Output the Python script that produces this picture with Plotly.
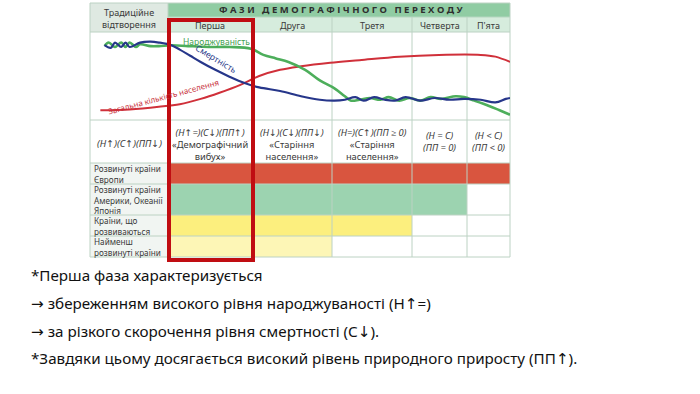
import plotly.graph_objects as go

W, H = 700, 394

# ---------------- data ----------------
title = "ФАЗИ ДЕМОГРАФІЧНОГО ПЕРЕХОДУ"
traditional_label = ["Традиційне", "відтворення"]
traditional_formula = ["<i>(Н↑)(С↑)(ПП↓)</i>"]
phases = ["Перша", "Друга", "Третя", "Четверта", "П'ята"]
phase_formulas = [
    ["<i>(Н↑=)(С↓)(ПП↑)</i>", "«Демографічний", "вибух»"],
    ["<i>(Н↓)(С↓)(ПП↓)</i>", "«Старіння", "населення»"],
    ["<i>(Н=)(С↑)(ПП ≥ 0)</i>", "«Старіння", "населення»"],
    ["<i>(Н = С)</i>", "<i>(ПП = 0)</i>"],
    ["<i>(Н &lt; С)</i>", "<i>(ПП &lt; 0)</i>"],
]
country_groups = [
    ["Розвинуті країни", "Європи"],
    ["Розвинуті країни", "Америки, Океанії", "Японія"],
    ["Країни, що", "розвиваються"],
    ["Найменш", "розвинуті країни"],
]
phases_reached = [5, 4, 3, 2]

# curves: time (0..100) and level (0..100)
birth_t = [3, 4, 5.5, 7, 8, 9, 10.5, 11.5, 14, 16, 19, 23, 28, 33, 38, 41, 44, 47, 51, 54.5, 58, 60.5, 62,
           64, 66.5, 69, 71, 73.5, 76, 78.5, 81, 83.5, 87, 89, 91.5, 95, 97.5, 100]
birth_v = [84, 88, 83, 88, 83, 88, 83, 86, 84, 84, 85, 84, 83, 83, 81, 74, 70, 66, 57, 45, 36, 27, 22,
           23, 25, 23, 26, 22, 25, 22, 26, 24, 27, 26, 22, 16, 11, 6]
death_t = [3, 4.5, 5.5, 7, 8, 9, 11.5, 14, 16, 19, 21, 23.5, 26, 29.5, 33, 36.5, 40, 45, 50, 54.5, 58,
           60.5, 63, 65, 67.5, 70, 72.5, 75, 78.5, 82, 85.5, 89, 93, 96.5, 99, 100]
death_v = [85, 82, 88, 83, 88, 83, 88, 89, 88, 85, 80, 73, 66, 57, 49, 42, 37, 33, 27, 23, 22,
           23, 26, 22, 26, 23, 22, 26, 22, 25, 23, 24, 23, 20, 24, 25]
pop_t = [2, 9, 16, 21, 26, 30.5, 35.5, 40, 45, 50, 57, 64, 73.5, 83, 93, 96.5, 100]
pop_v = [11, 12, 15, 18, 24, 31, 40, 50, 57, 61, 65, 68, 72, 74, 74, 72, 66]
curve_names = ["Народжуваність", "Смертність", "Загальна кількість населення"]

bottom = [
    "*Перша фаза характеризується",
    "→ збереженням високого рівня народжуваності (Н↑=)",
    "→ за різкого скорочення рівня смертності (С↓).",
    "*Завдяки цьому досягається високий рівень природного приросту (ПП↑).",
]

# ---------------- layout constants (pixels) ----------------
col_px = [90, 168, 252, 332, 412, 467, 510]
row_px = [3, 17, 32, 120, 163, 184, 215, 236, 257]
row_colors = ["#d9553f", "#9cd3b0", "#fcef7e", "#fdf6b6"]
grid_col = "#bcd2c3"
FONT = "Noto Sans"
TXT = "#3a3a3a"


def arrows(s):
    for a in ("↑", "↓", "→"):
        s = s.replace(a, "<span style='font-family:DejaVu Sans'>" + a + "</span>")
    return s


def px(x):
    return x / W


def py(y):
    return 1 - y / H


shapes = []
ann = []


def rect(x0, y0, x1, y1, fill):
    shapes.append(dict(type="rect", xref="paper", yref="paper",
                       x0=px(x0), x1=px(x1), y0=py(y1), y1=py(y0),
                       fillcolor=fill, line=dict(width=0), layer="below"))


def hline(x0, x1, y, color=grid_col, w=1):
    shapes.append(dict(type="line", xref="paper", yref="paper", x0=px(x0), x1=px(x1),
                       y0=py(y), y1=py(y), line=dict(color=color, width=w), layer="below"))


def vline(x, y0, y1, color=grid_col, w=1):
    shapes.append(dict(type="line", xref="paper", yref="paper", x0=px(x), x1=px(x),
                       y0=py(y0), y1=py(y1), line=dict(color=color, width=w), layer="below"))


def text(x, y, s, size=8, color=TXT, anchor="center", angle=0, bold=False, align="center"):
    if isinstance(s, list):
        s = "<br>".join(s)
    s = arrows(s)
    if bold:
        s = "<b>" + s + "</b>"
    ann.append(dict(xref="paper", yref="paper", x=px(x), y=py(y), text=s, showarrow=False,
                    xanchor=anchor, yanchor="middle", textangle=angle, align=align,
                    font=dict(family=FONT, size=size, color=color)))


# headers
rect(col_px[0], row_px[0], col_px[1], row_px[2], "#dfe9e2")
rect(col_px[1], row_px[0], col_px[-1], row_px[1], "#90cca3")
rect(col_px[1], row_px[1], col_px[-1], row_px[2], "#d6ecdd")
# row label cells
rect(col_px[0], row_px[4], col_px[1], row_px[-1], "#f1f5f2")
# coloured cells
for r, n in enumerate(phases_reached):
    rect(col_px[1], row_px[4 + r], col_px[1 + n], row_px[5 + r], row_colors[r])

# grid
for i, y in enumerate(row_px):
    if i == 1:
        hline(col_px[1], col_px[-1], y, color="#b5d6c0")
    else:
        hline(col_px[0], col_px[-1], y)
for i, x in enumerate(col_px):
    if i in (0, 1, len(col_px) - 1):
        vline(x, row_px[0], row_px[-1])
    else:
        vline(x, row_px[1], row_px[-1])

# header texts
cx = [(col_px[i] + col_px[i + 1]) / 2 for i in range(len(col_px) - 1)]
text(cx[0], 18.5, traditional_label, size=9)
spaced = "   ".join(" ".join(list(w)) for w in title.split(" "))
text((col_px[1] + col_px[-1]) / 2 + 2, 10, spaced, size=9.5, bold=True, color="#2e2e2e")
for i, p in enumerate(phases):
    text(cx[i + 1], 25, p, size=9)

# formula row
text(cx[0], 143.5, traditional_formula, size=9.5)
for i, lines in enumerate(phase_formulas):
    yc = 144.5 if len(lines) == 3 else 141
    text(cx[i + 1], yc, lines, size=9.3)

# row labels
for r, lines in enumerate(country_groups):
    y0, y1 = row_px[4 + r], row_px[5 + r]
    text(col_px[0] + 2, (y0 + y1) / 2, lines, size=8.2, anchor="left", align="left")

# chart labels
text(216, 42, curve_names[0], size=8.5, color="#3f9f4f")
text(216, 59, curve_names[1], size=8.5, color="#2a3a8a", angle=31)
text(163, 96, curve_names[2], size=8, color="#c8323c", angle=-15)

# red highlight box
shapes.append(dict(type="rect", xref="paper", yref="paper", x0=px(169), x1=px(253),
                   y0=py(260), y1=py(20), line=dict(color="#c00d12", width=4),
                   fillcolor="rgba(0,0,0,0)", layer="above"))

# bottom text
for s, y in zip(bottom, [275, 303, 331, 358]):
    ann.append(dict(xref="paper", yref="paper", x=px(29), y=py(y), text=arrows(s), showarrow=False,
                    xanchor="left", yanchor="middle",
                    font=dict(family=FONT, size=15.2, color="#111111")))

fig = go.Figure()
fig.add_trace(go.Scatter(x=pop_t, y=pop_v, mode="lines", line=dict(color="#d0303a", width=2, shape="spline"),
                         name=curve_names[2], hoverinfo="skip"))
fig.add_trace(go.Scatter(x=birth_t, y=birth_v, mode="lines", line=dict(color="#4dae5b", width=2.6, shape="spline"),
                         name=curve_names[0], hoverinfo="skip"))
fig.add_trace(go.Scatter(x=death_t, y=death_v, mode="lines", line=dict(color="#26368a", width=2.2, shape="spline"),
                         name=curve_names[1], hoverinfo="skip"))

fig.update_layout(
    width=W, height=H, margin=dict(l=0, r=0, t=0, b=0),
    paper_bgcolor="white", plot_bgcolor="rgba(0,0,0,0)", showlegend=False,
    xaxis=dict(domain=[px(92), px(510)], range=[0, 100], visible=False, fixedrange=True),
    yaxis=dict(domain=[py(120), py(32)], range=[0, 100], visible=False, fixedrange=True),
    shapes=shapes, annotations=ann,
)
fig.write_html("out.html")
